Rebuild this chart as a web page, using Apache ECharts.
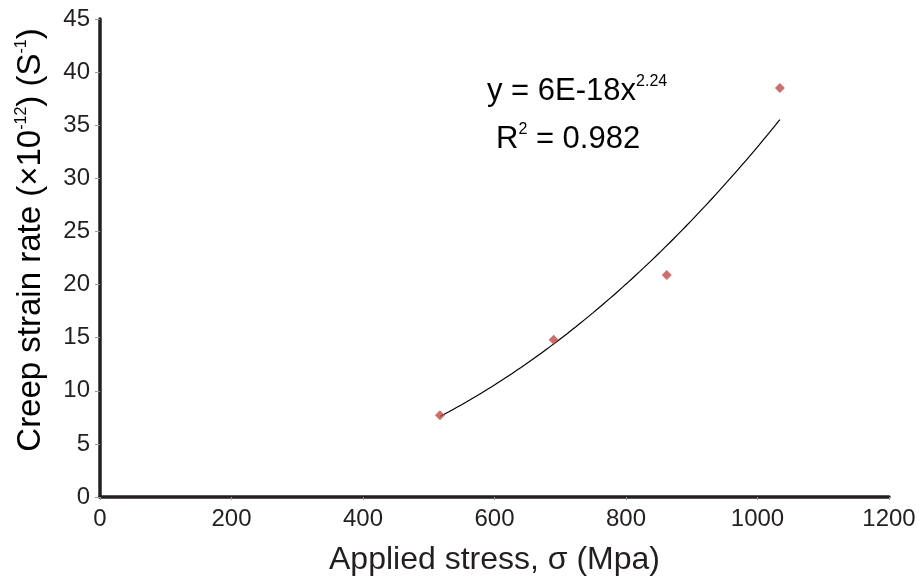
<!DOCTYPE html>
<html>
<head>
<meta charset="utf-8">
<script src="https://cdn.jsdelivr.net/npm/echarts@6/dist/echarts.min.js"></script>
<style>
  html, body { margin: 0; padding: 0; background: #fff; }
  #chart { width: 922px; height: 581px; }
</style>
</head>
<body>
<div id="chart"></div>
<script>
// Measured creep data: applied stress (MPa) vs. creep strain rate (x1e-12 per s)
const stressMPa = [517, 690, 862, 1034];
const creepRate = [7.7, 14.8, 20.9, 38.5];

// Axis ranges
const xRange = { min: 0, max: 1200, interval: 200 };
const yRange = { min: 0, max: 45, interval: 5 };

// Fitted power-law trendline text
const fitEquation = { coef: '6E-18', exponent: '2.24', r2: '0.982' };

// Power-law least squares fit (ln y = ln a + b ln x), as a spreadsheet trendline does
function powerFit(xs, ys) {
  const lx = xs.map(Math.log), ly = ys.map(Math.log);
  const n = xs.length;
  const mx = lx.reduce((s, v) => s + v, 0) / n;
  const my = ly.reduce((s, v) => s + v, 0) / n;
  let sxy = 0, sxx = 0;
  for (let i = 0; i < n; i++) { sxy += (lx[i] - mx) * (ly[i] - my); sxx += (lx[i] - mx) ** 2; }
  const b = sxy / sxx;
  const a = Math.exp(my - b * mx);
  return { a, b };
}
const fit = powerFit(stressMPa, creepRate);
const xLo = Math.min(...stressMPa), xHi = Math.max(...stressMPa);
const trend = [];
for (let i = 0; i <= 80; i++) {
  const x = xLo + (xHi - xLo) * i / 80;
  trend.push([x, fit.a * Math.pow(x, fit.b)]);
}

const ink = '#231f20';
const font = 'Liberation Sans, Arial, Helvetica, sans-serif';

const chart = echarts.init(document.getElementById('chart'), null, { renderer: 'canvas' });
chart.setOption({
  animation: false,
  backgroundColor: '#ffffff',
  grid: { left: 100, right: 33, top: 19, bottom: 81, containLabel: false },
  xAxis: {
    type: 'value', min: xRange.min, max: xRange.max, interval: xRange.interval,
    name: 'Applied stress, σ (Mpa)', nameLocation: 'middle', nameGap: 47,
    nameTextStyle: { fontFamily: font, fontSize: 32, color: ink },
    axisLine: { show: true, onZero: false, lineStyle: { color: ink, width: 3.5 } },
    axisTick: { show: true, length: 3, lineStyle: { color: '#9a9a9a', width: 1 } },
    axisLabel: { fontFamily: font, fontSize: 24, color: ink, margin: 10, formatter: v => String(v) },
    splitLine: { show: false }
  },
  yAxis: {
    type: 'value', min: yRange.min, max: yRange.max, interval: yRange.interval,
    axisLine: { show: true, onZero: false, lineStyle: { color: ink, width: 3.5 } },
    axisTick: { show: true, length: 5, lineStyle: { color: '#9a9a9a', width: 1 } },
    axisLabel: { fontFamily: font, fontSize: 24, color: ink, margin: 10, formatter: v => String(v) },
    splitLine: { show: false }
  },
  graphic: [
    {
      type: 'text', x: 31, y: 240, rotation: Math.PI / 2,
      style: {
        text: '{m|Creep strain rate (×10}{s|-12}{m|) (S}{s|-1}{m|)}',
        align: 'center', verticalAlign: 'middle',
        rich: {
          m: { fontFamily: font, fontSize: 33, color: ink, lineHeight: 34 },
          s: { fontFamily: font, fontSize: 16, color: ink, lineHeight: 34, verticalAlign: 'top' }
        }
      }
    },
    {
      type: 'text', x: 487, y: 91,
      style: {
        text: '{m|y = ' + fitEquation.coef + 'x}{s|' + fitEquation.exponent + '}',
        align: 'left', verticalAlign: 'middle',
        rich: {
          m: { fontFamily: font, fontSize: 31, color: ink, lineHeight: 34 },
          s: { fontFamily: font, fontSize: 16, color: ink, lineHeight: 34, verticalAlign: 'top' }
        }
      }
    },
    {
      type: 'text', x: 496, y: 139,
      style: {
        text: '{m|R}{s|2}{m| = ' + fitEquation.r2 + '}',
        align: 'left', verticalAlign: 'middle',
        rich: {
          m: { fontFamily: font, fontSize: 31, color: ink, lineHeight: 34 },
          s: { fontFamily: font, fontSize: 16, color: ink, lineHeight: 34, verticalAlign: 'top' }
        }
      }
    }
  ],
  series: [
    {
      type: 'line', data: trend, showSymbol: false, smooth: false,
      lineStyle: { color: '#000000', width: 1.2 }, z: 2, silent: true
    },
    {
      type: 'scatter', data: stressMPa.map((x, i) => [x, creepRate[i]]),
      symbol: 'diamond', symbolSize: 10,
      itemStyle: { color: '#bf4b48' }, z: 3
    }
  ]
});
</script>
</body>
</html>
